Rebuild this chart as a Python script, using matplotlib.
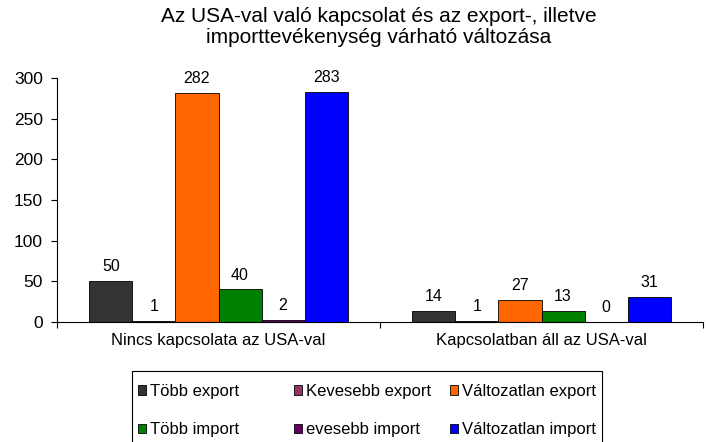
import matplotlib
matplotlib.use("Agg")
import matplotlib.pyplot as plt
import numpy as np
from matplotlib.patches import Patch, Rectangle

plt.rcParams["font.family"] = ["Liberation Sans", "DejaVu Sans"]

TITLE = "Az USA-val való kapcsolat és az export-, illetve\nimporttevékenység várható változása"
CATEGORIES = ["Nincs kapcsolata az USA-val", "Kapcsolatban áll az USA-val"]
SERIES = [
    "Több export",
    "Kevesebb export",
    "Változatlan export",
    "Több import",
    "evesebb import",
    "Változatlan import",
]
VALUES = [
    [50, 14],
    [1, 1],
    [282, 27],
    [40, 13],
    [2, 0],
    [283, 31],
]
COLORS = ["#333333", "#993366", "#FF6600", "#008000", "#660066", "#0000FF"]
Y_TICKS = [0, 50, 100, 150, 200, 250, 300]

W, H = 708, 442
fig = plt.figure(figsize=(W / 100, H / 100), dpi=100)
ax = fig.add_axes([57 / W, 1 - 322 / H, 646 / W, 244 / H])

x = np.arange(len(CATEGORIES))
width = 0.8 / len(SERIES)
for i, (name, vals, col) in enumerate(zip(SERIES, VALUES, COLORS)):
    pos = x - 0.4 + width * (i + 0.5)
    bars = ax.bar(pos, vals, width, color=col, edgecolor="black", linewidth=0.6, label=name)
    for b, v in zip(bars, vals):
        ax.annotate(str(v), (b.get_x() + b.get_width() / 2, v), xytext=(0, 5),
                    textcoords="offset points", ha="center", va="bottom", fontsize=11.5)

ax.set_xlim(-0.5, 1.5)
ax.set_ylim(0, 300)
ax.set_yticks(Y_TICKS)
ax.tick_params(axis="y", labelsize=12.5, length=4, pad=6, direction="out", width=0.8)
ax.set_xticks([-0.5, 0.5, 1.5])
ax.set_xticklabels([])
ax.tick_params(axis="x", length=4, direction="out", width=0.8)
for xi, lab in zip(x, CATEGORIES):
    ax.text(xi, -0.045, lab, transform=ax.get_xaxis_transform(), ha="center", va="top", fontsize=12)

ax.spines["top"].set_visible(False)
ax.spines["right"].set_visible(False)

fig.text(379 / W, 1 - 7 / H, TITLE, ha="center", va="top", fontsize=15, linespacing=1.12)

# legend: frame plus three equal-width columns, filled row by row like the original
fig.patches.append(Rectangle((132 / W, -4 / H), 470 / W, 75 / H, transform=fig.transFigure,
                             facecolor="white", edgecolor="black", linewidth=0.8, zorder=0))
col_x = [138, 294, 450]
for c in range(3):
    idx = [c, c + 3]
    handles = [Patch(facecolor=COLORS[k], edgecolor="black", linewidth=0.6) for k in idx]
    fig.legend(handles, [SERIES[k] for k in idx], loc="upper left",
               bbox_to_anchor=(col_x[c] / W, 1 - 384 / H), frameon=False, fontsize=12,
               handlelength=0.5, handleheight=0.5, handletextpad=0.25, labelspacing=1.4,
               borderpad=0, borderaxespad=0)

fig.savefig("out.png", dpi=100)
